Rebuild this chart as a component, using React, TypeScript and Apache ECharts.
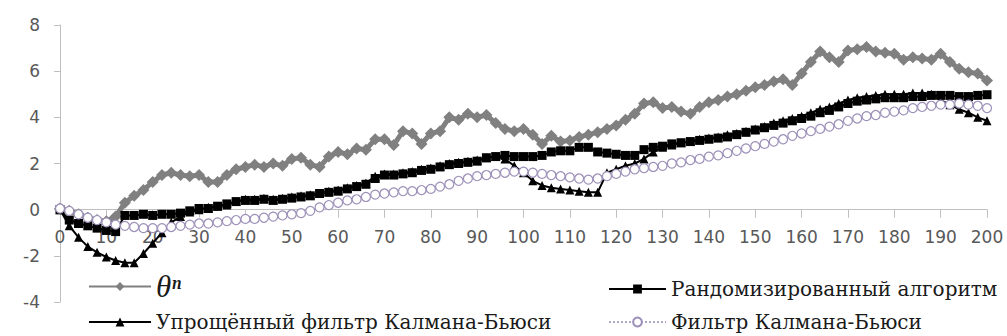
import React, { useEffect, useRef } from "react";
import * as echarts from "echarts";

const X_STEPS = [
  0, 2, 4, 6, 8, 10, 12, 14, 16, 18, 20, 22, 24, 26, 28, 30, 32, 34, 36, 38,
  40, 42, 44, 46, 48, 50, 52, 54, 56, 58, 60, 62, 64, 66, 68, 70, 72, 74, 76, 78,
  80, 82, 84, 86, 88, 90, 92, 94, 96, 98, 100, 102, 104, 106, 108, 110, 112, 114, 116, 118,
  120, 122, 124, 126, 128, 130, 132, 134, 136, 138, 140, 142, 144, 146, 148, 150, 152, 154, 156, 158,
  160, 162, 164, 166, 168, 170, 172, 174, 176, 178, 180, 182, 184, 186, 188, 190, 192, 194, 196, 198, 200,
];

const THETA = [
  0.05, -0.05, -0.2, -0.35, -0.45, -0.5, -0.3, 0.3, 0.6, 0.85, 1.2, 1.5, 1.6, 1.5, 1.45, 1.5, 1.2, 1.2, 1.5, 1.75,
  1.85, 1.95, 1.85, 2.0, 1.9, 2.2, 2.25, 1.95, 1.85, 2.3, 2.5, 2.4, 2.65, 2.6, 3.05, 3.05, 2.8, 3.4, 3.3, 2.85,
  3.3, 3.4, 4.0, 3.9, 4.15, 4.0, 4.1, 3.75, 3.5, 3.4, 3.5, 3.25, 2.85, 3.2, 2.95, 3.0, 3.15, 3.25, 3.35, 3.5,
  3.65, 3.9, 4.15, 4.6, 4.65, 4.4, 4.45, 4.25, 4.15, 4.45, 4.65, 4.75, 4.9, 5.0, 5.15, 5.3, 5.4, 5.55, 5.65, 5.4,
  5.9, 6.4, 6.85, 6.6, 6.4, 6.9, 6.95, 7.05, 6.85, 6.8, 6.75, 6.5, 6.6, 6.55, 6.5, 6.75, 6.4, 6.1, 5.95, 5.9, 5.6,
];

const RANDOMIZED = [
  0.0, -0.45, -0.6, -0.7, -0.8, -0.9, -0.95, -0.25, -0.25, -0.2, -0.25, -0.2, -0.2, -0.15, -0.05, 0.05, 0.05, 0.15, 0.25, 0.35,
  0.4, 0.4, 0.45, 0.4, 0.45, 0.5, 0.55, 0.6, 0.7, 0.75, 0.8, 0.9, 1.0, 1.1, 1.35, 1.5, 1.5, 1.55, 1.6, 1.7,
  1.75, 1.85, 1.95, 2.0, 2.05, 2.1, 2.25, 2.3, 2.35, 2.3, 2.3, 2.3, 2.35, 2.5, 2.55, 2.55, 2.7, 2.7, 2.5, 2.45,
  2.4, 2.35, 2.35, 2.6, 2.7, 2.75, 2.85, 2.9, 2.95, 3.0, 3.05, 3.1, 3.15, 3.25, 3.35, 3.45, 3.55, 3.65, 3.75, 3.85,
  3.95, 4.05, 4.2, 4.3, 4.45, 4.6, 4.7, 4.75, 4.8, 4.85, 4.85, 4.85, 4.9, 4.9, 4.95, 4.95, 4.95, 4.9, 4.9, 4.95, 4.98,
];

const SIMPLIFIED_KB = [
  0.0, -0.7, -1.2, -1.6, -1.85, -2.05, -2.2, -2.3, -2.3, -1.9, -1.45, -1.0, -0.55, -0.3, -0.1, 0.0, 0.1, 0.15, 0.2, 0.35,
  0.45, 0.45, 0.5, 0.45, 0.5, 0.55, 0.6, 0.65, 0.7, 0.8, 0.85, 0.95, 1.05, 1.15, 1.45, 1.55, 1.55, 1.6, 1.65, 1.75,
  1.8, 1.9, 2.0, 2.05, 2.1, 2.15, 2.25, 2.3, 2.2, 1.9, 1.6, 1.25, 1.05, 0.95, 0.9, 0.85, 0.8, 0.75, 0.75, 1.6,
  1.75, 1.9, 2.0, 2.2, 2.5, 2.7, 2.8, 2.9, 2.95, 3.05, 3.1, 3.15, 3.25, 3.3, 3.4, 3.5, 3.6, 3.75, 3.85, 3.95,
  4.05, 4.2, 4.35, 4.45, 4.6, 4.75, 4.85, 4.9, 4.95, 5.0, 5.0, 5.0, 5.05, 5.05, 5.0, 4.75, 4.55, 4.35, 4.2, 4.0, 3.85,
];

const KALMAN_BUCY = [
  0.05, -0.05, -0.2, -0.35, -0.45, -0.55, -0.65, -0.7, -0.75, -0.8, -0.8, -0.8, -0.75, -0.7, -0.65, -0.6, -0.6, -0.55, -0.5, -0.45,
  -0.4, -0.4, -0.35, -0.3, -0.25, -0.2, -0.15, -0.05, 0.1, 0.2, 0.3, 0.4, 0.45, 0.55, 0.65, 0.7, 0.75, 0.8, 0.8, 0.85,
  0.9, 1.0, 1.1, 1.25, 1.35, 1.45, 1.5, 1.55, 1.6, 1.65, 1.65, 1.6, 1.55, 1.5, 1.45, 1.4, 1.35, 1.3, 1.35, 1.45,
  1.55, 1.65, 1.75, 1.8, 1.85, 1.9, 2.0, 2.05, 2.15, 2.2, 2.3, 2.35, 2.45, 2.55, 2.65, 2.75, 2.85, 2.95, 3.05, 3.2,
  3.3, 3.4, 3.5, 3.6, 3.7, 3.85, 3.95, 4.05, 4.1, 4.2, 4.25, 4.3, 4.4, 4.45, 4.5, 4.55, 4.55, 4.6, 4.55, 4.5, 4.4,
];

const NAMES = [
  "θⁿ",
  "Рандомизированный алгоритм",
  "Упрощённый фильтр Калмана-Бьюси",
  "Фильтр Калмана-Бьюси",
];

const X_MIN = 0;
const X_MAX = 200;
const X_INTERVAL = 10;
const Y_MIN = -4;
const Y_MAX = 8;
const Y_INTERVAL = 2;

const pairs = (ys: number[]) => X_STEPS.map((x, i) => [x, ys[i]]);

const GRID_TOP = 25;
const GRID_BOTTOM = 34;
const CHART_H = 336;

export default function App() {
  const ref = useRef<HTMLDivElement>(null);

  useEffect(() => {
    if (!ref.current) return;
    const chart = echarts.init(ref.current, undefined, { renderer: "svg" });
    const axisColor = "#bfbfbf";
    const labelFont = {
      fontFamily: "DejaVu Sans",
      fontSize: 17,
      color: "#595959",
    };
    const legendText = {
      fontFamily: "DejaVu Serif",
      fontSize: 20,
      color: "#1a1a1a",
    };
    // the x axis crosses the y axis at zero, as in the original
    const plotH = CHART_H - GRID_TOP - GRID_BOTTOM;
    const zeroOffset = -(plotH * (0 - Y_MIN)) / (Y_MAX - Y_MIN);
    chart.setOption({
      animation: false,
      backgroundColor: "#ffffff",
      grid: { left: 60, right: 20, top: GRID_TOP, bottom: GRID_BOTTOM, containLabel: false },
      xAxis: {
        type: "value",
        min: X_MIN,
        max: X_MAX,
        interval: X_INTERVAL,
        offset: zeroOffset,
        axisLine: { show: true, onZero: false, lineStyle: { color: axisColor, width: 1 } },
        axisTick: { show: true, length: 8, lineStyle: { color: axisColor } },
        axisLabel: { ...labelFont, margin: 19 },
        splitLine: { show: false },
      },
      yAxis: {
        type: "value",
        min: Y_MIN,
        max: Y_MAX,
        interval: Y_INTERVAL,
        axisLine: { show: true, onZero: false, lineStyle: { color: axisColor, width: 1 } },
        axisTick: { show: true, length: 6, lineStyle: { color: axisColor } },
        axisLabel: { ...labelFont, margin: 20 },
        splitLine: { show: false },
      },
      legend: [
        {
          data: [NAMES[0]],
          left: 83,
          top: 266,
          itemWidth: 62,
          itemHeight: 11,
          itemGap: 0,
          textStyle: {
            fontFamily: "Liberation Serif",
            fontStyle: "italic",
            fontSize: 31,
            color: "#1a1a1a",
          },
        },
        {
          data: [NAMES[1]],
          left: 603,
          top: 274,
          itemWidth: 57,
          itemHeight: 11,
          textStyle: legendText,
        },
        {
          data: [NAMES[2]],
          left: 83,
          top: 307,
          itemWidth: 62,
          itemHeight: 11,
          textStyle: legendText,
        },
        {
          data: [NAMES[3]],
          left: 603,
          top: 307,
          itemWidth: 57,
          itemHeight: 11,
          textStyle: legendText,
        },
      ],
      series: [
        {
          name: NAMES[0],
          type: "line",
          data: pairs(THETA),
          symbol: "diamond",
          symbolSize: 12,
          lineStyle: { color: "#808080", width: 5 },
          itemStyle: { color: "#808080" },
          z: 2,
        },
        {
          name: NAMES[1],
          type: "line",
          data: pairs(RANDOMIZED),
          symbol: "rect",
          symbolSize: 9,
          lineStyle: { color: "#000000", width: 2 },
          itemStyle: { color: "#000000" },
          z: 3,
        },
        {
          name: NAMES[2],
          type: "line",
          data: pairs(SIMPLIFIED_KB),
          symbol: "triangle",
          symbolSize: 9,
          lineStyle: { color: "#000000", width: 2 },
          itemStyle: { color: "#000000" },
          z: 4,
        },
        {
          name: NAMES[3],
          type: "line",
          data: pairs(KALMAN_BUCY),
          symbol: "circle",
          symbolSize: 9,
          lineStyle: { color: "#b0a6c6", width: 1, type: "dotted" },
          itemStyle: { color: "#ffffff", borderColor: "#9d90b8", borderWidth: 1.2 },
          z: 5,
        },
      ],
    });
    return () => chart.dispose();
  }, []);

  return (
    <div
      ref={ref}
      style={{ position: "absolute", left: 0, top: 0, width: 1007, height: 336 }}
    />
  );
}
